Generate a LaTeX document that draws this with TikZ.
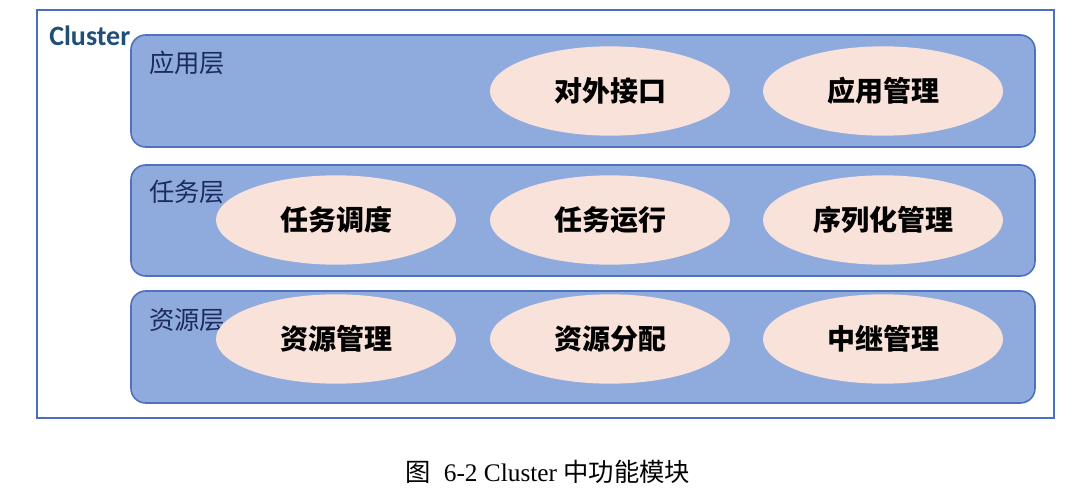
\documentclass[tikz,border=0pt]{standalone}
\usepackage{fontspec}
\setmainfont{Liberation Serif}
\newfontfamily\cjk{Noto Sans CJK SC}
\newfontfamily\cali{Carlito}
\usepackage{tikz}
\usetikzlibrary{shapes.geometric}
\usetikzlibrary{positioning}
\definecolor{layerfill}{HTML}{8FAADC}
\definecolor{layerline}{HTML}{4F71BE}
\definecolor{framecol}{HTML}{4A6FBE}
\definecolor{modfill}{HTML}{F9E2D9}
\definecolor{labcol}{HTML}{1B2B5E}
\definecolor{clustcol}{HTML}{1F4E79}
\begin{document}
\begin{tikzpicture}[x=0.75pt,y=0.75pt,yscale=-1,xscale=1]
 \tikzstyle{layer} = [draw=layerline,fill=layerfill,line width=1.2pt,rounded corners=11pt]
 \tikzstyle{module} = [ellipse,fill=modfill,minimum width=180pt,minimum height=67pt,inner sep=0pt,font=\cjk\bfseries\fontsize{21}{24}\selectfont]
 \tikzstyle{laylab} = [anchor=west,inner sep=0pt,text=labcol,font=\cjk\fontsize{19}{22}\selectfont]
 \useasboundingbox (0,0) rectangle (1082,497);
  %Draw the outer frame
 \draw [framecol,line width=0.8pt] (37,10) rectangle (1054,418);
 \node (cluster) [anchor=west,inner sep=0pt,text=clustcol,font=\cali\bfseries\fontsize{21}{24}\selectfont] at (49,36) {Cluster};
  %Draw the layers
 \draw [layer] (131,35) rectangle (1035,147);
 \draw [layer] (131,165) rectangle (1035,276);
 \draw [layer] (131,291) rectangle (1035,403);
  %Labelling the layers
 \node (app) [laylab] at (149,63) {应用层};
 \node (task) [laylab] at (149,192) {任务层};
 \node (res) [laylab] at (149,320) {资源层};
  %Draw the modules
 \node (api) [module] at (610,91) {对外接口};
 \node (appmgr) [module] at (883,91) {应用管理};
 \node (sched) [module] at (336,220) {任务调度};
 \node (run) [module] at (610,220) {任务运行};
 \node (ser) [module] at (883,220) {序列化管理};
 \node (resmgr) [module] at (336,339) {资源管理};
 \node (alloc) [module] at (610,339) {资源分配};
 \node (relay) [module] at (883,339) {中继管理};
  %Caption
 \node (cap) [inner sep=0pt,font=\fontsize{19}{22}\selectfont] at (548,472) {{\cjk 图}\ \ 6-2 Cluster {\cjk 中功能模块}};
\end{tikzpicture}
\end{document}
